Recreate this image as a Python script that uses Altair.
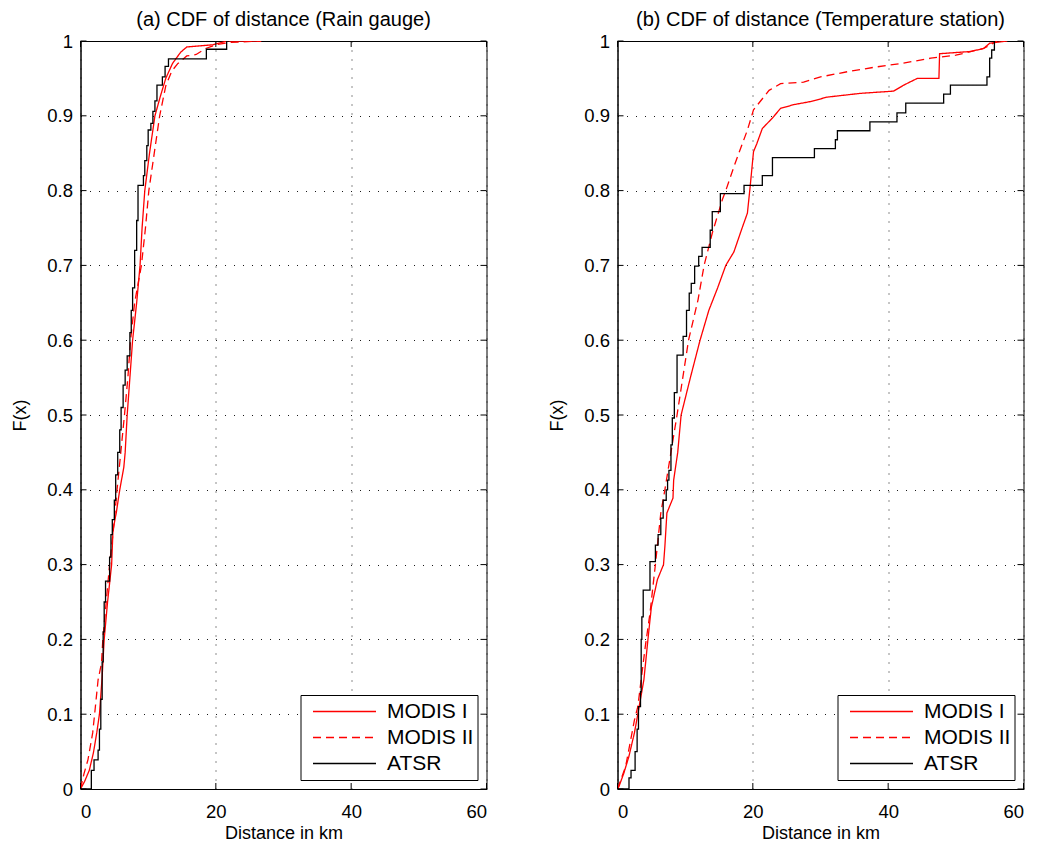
import altair as alt
import pandas as pd

SERIES = ["MODIS I", "MODIS II", "ATSR"]

# ---- panel (a) Rain gauge ----
a_modis1_x = [0, 0.6, 1.3, 1.9, 2.4, 2.8, 3.2, 3.5, 4.0, 4.6, 4.8, 5.3, 5.8, 6.4, 6.6, 6.9, 7.3, 7.7, 8.3, 8.8, 9.1, 9.5, 10.2, 11.0, 11.8, 12.6, 13.6, 14.8, 15.7, 19.6, 21.6, 26.7]
a_modis1_y = [0, 0.01, 0.025, 0.048, 0.075, 0.1, 0.15, 0.2, 0.25, 0.3, 0.346, 0.37, 0.4, 0.43, 0.45, 0.5, 0.55, 0.6, 0.65, 0.7, 0.75, 0.8, 0.85, 0.9, 0.926, 0.95, 0.97, 0.985, 0.992, 0.995, 1.0, 1.0]
a_modis2_x = [0, 0.5, 1.1, 1.8, 2.2, 2.6, 3.1, 3.3, 3.8, 4.3, 4.9, 5.4, 5.8, 6.5, 7.0, 7.4, 8.0, 9.0, 9.6, 10.1, 10.9, 11.7, 12.6, 13.5, 14.4, 15.7, 17.1, 18.5, 20.0, 22.0, 26.7]
a_modis2_y = [0, 0.02, 0.039, 0.075, 0.11, 0.146, 0.168, 0.2, 0.25, 0.3, 0.35, 0.4, 0.436, 0.5, 0.55, 0.6, 0.65, 0.7, 0.75, 0.8, 0.85, 0.9, 0.94, 0.96, 0.97, 0.98, 0.982, 0.99, 0.995, 0.998, 1.0]
a_atsr_x = [0, 1.6, 2.0, 2.6, 2.8, 3.0, 3.2, 3.35, 3.5, 3.7, 4.3, 4.5, 4.7, 5.0, 5.2, 5.5, 5.8, 6.0, 6.3, 6.6, 6.9, 7.3, 7.5, 7.7, 8.0, 8.3, 8.5, 9.3, 9.5, 9.8, 10.0, 10.4, 10.7, 11.0, 11.3, 12.1, 12.5, 13.0, 18.6, 21.6, 22.0]
a_atsr_y = [0, 0.025, 0.039, 0.052, 0.08, 0.12, 0.17, 0.21, 0.25, 0.278, 0.31, 0.34, 0.36, 0.386, 0.42, 0.45, 0.48, 0.51, 0.54, 0.56, 0.579, 0.61, 0.64, 0.67, 0.72, 0.76, 0.807, 0.82, 0.84, 0.86, 0.881, 0.89, 0.906, 0.92, 0.941, 0.952, 0.966, 0.976, 0.989, 1.0, 1.0]

# ---- panel (b) Temperature station ----
b_modis1_x = [0, 0.2, 0.93, 1.67, 2.5, 3.0, 3.9, 4.5, 5.0, 5.9, 6.8, 7.0, 7.3, 8.2, 8.3, 8.9, 9.4, 10.8, 12.2, 13.5, 14.8, 16.0, 17.2, 18.3, 19.2, 19.6, 20.1, 20.6, 21.4, 22.9, 24.1, 26.1, 28.5, 31.0, 35.9, 40.8, 42.3, 44.3, 47.5, 47.6, 52.2, 54.1, 55.0, 57.6]
b_modis1_y = [0, 0.003, 0.021, 0.043, 0.075, 0.1, 0.146, 0.2, 0.243, 0.28, 0.3, 0.324, 0.369, 0.389, 0.413, 0.45, 0.5, 0.551, 0.6, 0.64, 0.67, 0.7, 0.718, 0.747, 0.77, 0.805, 0.852, 0.863, 0.883, 0.897, 0.91, 0.915, 0.919, 0.925, 0.93, 0.933, 0.941, 0.95, 0.95, 0.983, 0.986, 0.99, 0.997, 1.0]
b_modis2_x = [0, 0.4, 1.2, 2.5, 3.0, 4.1, 4.8, 5.6, 6.4, 7.0, 8.8, 10.5, 11.9, 12.8, 14.0, 15.5, 16.0, 17.4, 19.2, 20.1, 22.4, 24.1, 27.5, 30.0, 34.0, 38.0, 42.0, 46.3, 50.0, 54.1, 56.1]
b_modis2_y = [0, 0.01, 0.03, 0.092, 0.11, 0.19, 0.235, 0.3, 0.369, 0.4, 0.5, 0.6, 0.654, 0.7, 0.743, 0.788, 0.8, 0.837, 0.881, 0.908, 0.934, 0.943, 0.945, 0.952, 0.959, 0.965, 0.97, 0.977, 0.981, 0.99, 1.0]
b_atsr_x = [0, 1.7, 2.0, 2.6, 2.9, 3.1, 3.4, 3.5, 3.6, 3.8, 4.8, 5.6, 6.0, 6.4, 6.75, 7.2, 7.4, 7.6, 7.9, 8.1, 8.4, 8.8, 9.7, 10.2, 10.6, 10.9, 11.4, 12.0, 12.5, 13.7, 14.0, 15.2, 18.7, 21.4, 22.9, 29.1, 32.2, 32.5, 37.3, 41.3, 42.6, 48.2, 49.2, 54.6, 55.0, 55.3, 55.7]
b_atsr_y = [0, 0.015, 0.025, 0.05, 0.08, 0.11, 0.13, 0.2, 0.23, 0.266, 0.304, 0.326, 0.34, 0.362, 0.386, 0.40, 0.413, 0.426, 0.46, 0.496, 0.53, 0.58, 0.605, 0.64, 0.663, 0.676, 0.699, 0.712, 0.724, 0.747, 0.772, 0.796, 0.807, 0.82, 0.844, 0.856, 0.868, 0.88, 0.892, 0.904, 0.917, 0.929, 0.941, 0.952, 0.977, 0.988, 1.0]

x_ticks = [0, 20, 40, 60]
y_ticks = [0, 0.1, 0.2, 0.3, 0.4, 0.5, 0.6, 0.7, 0.8, 0.9, 1.0]

TITLES = ["(a) CDF of distance (Rain gauge)", "(b) CDF of distance (Temperature station)"]

W, H = 406, 748
FONT = "Liberation Sans"
TL = 6


def frame(xs, ys, name):
    return pd.DataFrame({"x": xs, "F": ys, "series": name})


def panel(title, m1x, m1y, m2x, m2y, atx, aty):
    modis = pd.concat([frame(m1x, m1y, SERIES[0]), frame(m2x, m2y, SERIES[1])])
    atsr = frame(atx, aty, SERIES[2])

    xsc = alt.Scale(domain=[0, 60], nice=False, zero=False)
    ysc = alt.Scale(domain=[0, 1], nice=False, zero=False)
    color = alt.Color("series:N", scale=alt.Scale(domain=SERIES, range=["#ff0000", "#ff0000", "#000000"]),
                      legend=alt.Legend(title=None))
    dash = alt.StrokeDash("series:N", scale=alt.Scale(domain=SERIES, range=[[1, 0], [8, 5], [1, 0]]),
                          legend=alt.Legend(title=None))
    xenc = alt.X("x:Q", scale=xsc,
                 axis=alt.Axis(values=x_ticks, title="Distance in km", format="d"))
    yenc = alt.Y("F:Q", scale=ysc,
                 axis=alt.Axis(values=y_ticks, title="F(x)", format=".1~f"))

    l_modis = alt.Chart(modis).mark_line(strokeWidth=1.3, clip=True).encode(
        x=xenc, y=yenc, color=color, strokeDash=dash, order="x:Q")
    l_atsr = alt.Chart(atsr).mark_line(strokeWidth=1.3, interpolate="step-after", clip=True).encode(
        x=alt.X("x:Q", scale=xsc), y=alt.Y("F:Q", scale=ysc), color=color, strokeDash=dash)

    xt = pd.DataFrame({"x": x_ticks})
    yt = pd.DataFrame({"F": y_ticks})
    tb = alt.Chart(xt).mark_rule(color="black", strokeWidth=1).encode(
        x=alt.X("x:Q", scale=xsc), y=alt.value(H), y2=alt.value(H - TL))
    tt = alt.Chart(xt).mark_rule(color="black", strokeWidth=1).encode(
        x=alt.X("x:Q", scale=xsc), y=alt.value(0), y2=alt.value(TL))
    tl = alt.Chart(yt).mark_rule(color="black", strokeWidth=1).encode(
        y=alt.Y("F:Q", scale=ysc), x=alt.value(0), x2=alt.value(TL))
    tr = alt.Chart(yt).mark_rule(color="black", strokeWidth=1).encode(
        y=alt.Y("F:Q", scale=ysc), x=alt.value(W), x2=alt.value(W - TL))

    return alt.layer(l_modis, l_atsr, tb, tt, tl, tr).properties(
        width=W, height=H,
        title=alt.TitleParams(title, fontSize=20, font=FONT, fontWeight="normal", color="black", offset=2),
    )


pa = panel(TITLES[0], a_modis1_x, a_modis1_y, a_modis2_x, a_modis2_y, a_atsr_x, a_atsr_y)
pb = panel(TITLES[1], b_modis1_x, b_modis1_y, b_modis2_x, b_modis2_y, b_atsr_x, b_atsr_y)

chart = alt.hconcat(pa, pb, spacing=60).resolve_scale(
    color="independent", strokeDash="independent"
).resolve_legend(color="independent", strokeDash="independent").properties(
    padding={"left": 2.5, "top": 1, "right": 2, "bottom": 0}
).configure_view(
    stroke="black", strokeWidth=1
).configure_axis(
    labelFont=FONT, labelFontSize=18.5, labelColor="black",
    titleFont=FONT, titleFontSize=18, titleFontWeight="normal", titleColor="black",
    domainColor="black", domainWidth=1, ticks=False,
    grid=True, gridColor="black", gridDash=[1, 8], gridWidth=1, gridOpacity=0.9,
).configure_axisX(
    labelPadding=13, titlePadding=4,
).configure_axisY(
    labelPadding=8, titlePadding=17,
).configure_legend(
    orient="bottom-right", offset=9, padding=3.5,
    fillColor="white", strokeColor="black",
    symbolType="stroke", symbolSize=3969, symbolStrokeWidth=1.3,
    symbolOffset=8, labelOffset=10, clipHeight=26, rowPadding=0,
    labelFont=FONT, labelFontSize=21, labelColor="black",
)

chart.save("out.html", embed_options={"renderer": "svg", "actions": False})
